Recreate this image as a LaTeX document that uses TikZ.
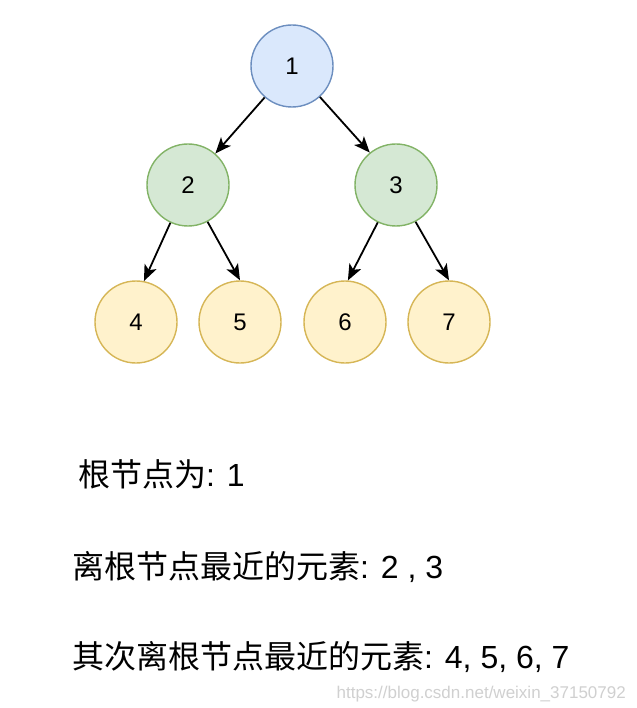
\documentclass[tikz,border=0pt]{standalone}
\usepackage{fontspec}
\setmainfont{Liberation Sans}
\newfontfamily\cjk{Noto Sans CJK SC}
\usetikzlibrary{arrows.meta}
\definecolor{bluefill}{HTML}{DAE8FC}
\definecolor{bluedraw}{HTML}{6C8EBF}
\definecolor{greenfill}{HTML}{D5E8D4}
\definecolor{greendraw}{HTML}{82B366}
\definecolor{yellowfill}{HTML}{FFF2CC}
\definecolor{yellowdraw}{HTML}{D6B656}
\definecolor{wm}{HTML}{D0D0D0}
\tikzset{
  treenode/.style={circle, minimum size=82pt, inner sep=0pt, line width=1.4pt, font=\fontsize{24pt}{28pt}\selectfont},
  rootnode/.style={treenode, fill=bluefill, draw=bluedraw},
  midnode/.style={treenode, fill=greenfill, draw=greendraw},
  leafnode/.style={treenode, fill=yellowfill, draw=yellowdraw},
  link/.style={line width=1.8pt, -{Stealth[length=16pt,width=13pt,inset=4pt]}},
  caption/.style={anchor=base west, inner sep=0pt, font=\fontsize{32pt}{38pt}\selectfont},
}
\begin{document}
\begin{tikzpicture}[x=1pt,y=-1pt]
\useasboundingbox (0,0) rectangle (636,708);
\fill[white] (0,0) rectangle (636,708);
\node[rootnode] (n1) at (292,66) {1};
\node[midnode] (n2) at (188,185) {2};
\node[midnode] (n3) at (396,185) {3};
\node[leafnode] (n4) at (136,322) {4};
\node[leafnode] (n5) at (240,322) {5};
\node[leafnode] (n6) at (345,322) {6};
\node[leafnode] (n7) at (449,322) {7};
\draw[link] (n1.229) -- (n2.49);
\draw[link] (n1.312) -- (n3.129);
\draw[link] (n2.245) -- (n4.79);
\draw[link] (n2.298) -- (n5.90);
\draw[link] (n3.244) -- (n6.86);
\draw[link] (n3.298) -- (n7.90);
\node[caption] (t1) at (78,486) {{\cjk 根节点为}: 1};
\node[caption] (t2) at (72,578) {{\cjk 离根节点最近的元素}: 2 , 3};
\node[caption] (t3) at (72,668) {{\cjk 其次离根节点最近的元素}: 4, 5, 6, 7};
\node[anchor=base east, inner sep=0pt, text=wm, font=\fontsize{17pt}{20pt}\selectfont] (wm) at (626,698) {https://blog.csdn.net/weixin\_37150792};
\end{tikzpicture}
\end{document}
